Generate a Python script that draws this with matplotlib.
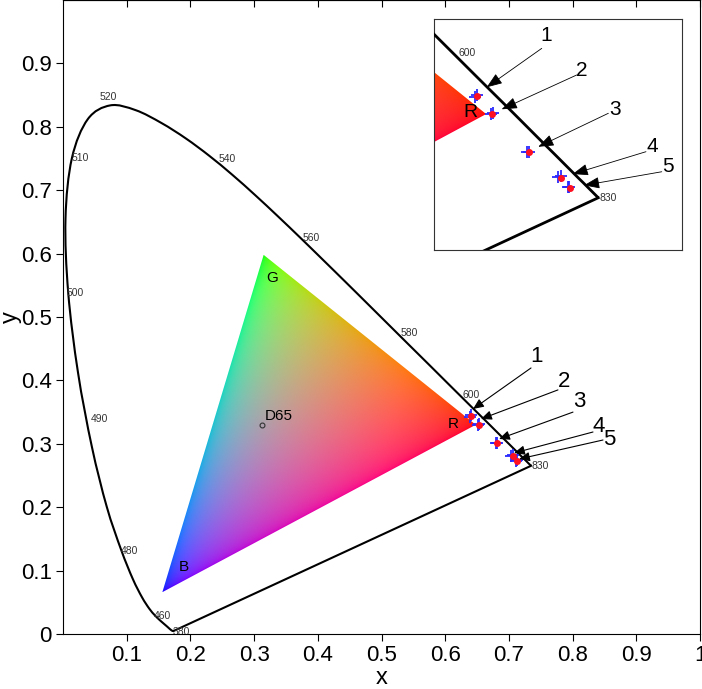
import numpy as np
import matplotlib
matplotlib.use("Agg")
import matplotlib.pyplot as plt
from matplotlib.patches import Polygon, PathPatch
from matplotlib.path import Path

plt.rcParams["font.family"] = ["Liberation Sans", "DejaVu Sans"]

# CIE 1931 spectral locus (5 nm steps, 380..700, then 830)
wavelengths = list(range(380, 705, 5)) + [830]
locus_x = [0.1741, 0.1740, 0.1738, 0.1736, 0.1733, 0.1730, 0.1726, 0.1721, 0.1714, 0.1703,
           0.1689, 0.1669, 0.1644, 0.1611, 0.1566, 0.1510, 0.1440, 0.1355, 0.1241, 0.1096,
           0.0913, 0.0687, 0.0454, 0.0235, 0.0082, 0.0039, 0.0139, 0.0389, 0.0743, 0.1142,
           0.1547, 0.1929, 0.2296, 0.2658, 0.3016, 0.3373, 0.3731, 0.4087, 0.4441, 0.4788,
           0.5125, 0.5448, 0.5752, 0.6029, 0.6270, 0.6482, 0.6658, 0.6801, 0.6915, 0.7006,
           0.7079, 0.7140, 0.7190, 0.7230, 0.7260, 0.7283, 0.7300, 0.7311, 0.7320, 0.7327,
           0.7334, 0.7340, 0.7344, 0.7346, 0.7347, 0.7347]
locus_y = [0.0050, 0.0050, 0.0049, 0.0049, 0.0048, 0.0048, 0.0048, 0.0048, 0.0051, 0.0058,
           0.0069, 0.0086, 0.0109, 0.0138, 0.0177, 0.0227, 0.0297, 0.0399, 0.0578, 0.0868,
           0.1327, 0.2007, 0.2950, 0.4127, 0.5384, 0.6548, 0.7502, 0.8120, 0.8338, 0.8262,
           0.8059, 0.7816, 0.7543, 0.7243, 0.6923, 0.6589, 0.6245, 0.5896, 0.5547, 0.5202,
           0.4866, 0.4544, 0.4242, 0.3965, 0.3725, 0.3514, 0.3340, 0.3197, 0.3083, 0.2993,
           0.2920, 0.2859, 0.2809, 0.2770, 0.2740, 0.2717, 0.2700, 0.2689, 0.2680, 0.2673,
           0.2666, 0.2660, 0.2656, 0.2654, 0.2653, 0.2653]

# wavelength labels and where they sit
wl_labels = ["520", "510", "500", "490", "480", "460", "380", "540", "560", "580", "600", "830"]
wl_label_x = [0.058, 0.013, 0.006, 0.044, 0.090, 0.143, 0.172, 0.245, 0.376, 0.530, 0.627, 0.736]
wl_label_y = [0.847, 0.751, 0.538, 0.339, 0.131, 0.028, 0.003, 0.749, 0.625, 0.475, 0.377, 0.265]

# gamut triangle primaries
prim_names = ["R", "G", "B"]
prim_x = [0.648, 0.315, 0.156]
prim_y = [0.330, 0.598, 0.066]
prim_label_x = [0.612, 0.3276, 0.189]
prim_label_y = [0.331, 0.561, 0.106]
white_x, white_y = 0.3127, 0.329

# measured points: two blue repeats and the red mean
meas_a_x = [0.6394, 0.6518, 0.6794, 0.7038, 0.7111]
meas_a_y = [0.3429, 0.3300, 0.3006, 0.2811, 0.2733]
meas_b_x = [0.6412, 0.6535, 0.6814, 0.7057, 0.7123]
meas_b_y = [0.3450, 0.3310, 0.3009, 0.2823, 0.2738]
mean_x = [0.6407, 0.6523, 0.6814, 0.7057, 0.7129]
mean_y = [0.3442, 0.3300, 0.3006, 0.2808, 0.2730]
point_ids = ["1", "2", "3", "4", "5"]

# arrows in main axes
main_tip_x = [0.6436, 0.6562, 0.6845, 0.7080, 0.7159]
main_tip_y = [0.3549, 0.3391, 0.3076, 0.2855, 0.2760]
main_tail_x = [0.7347, 0.7770, 0.8006, 0.8320, 0.8477]
main_tail_y = [0.4196, 0.3850, 0.3500, 0.3186, 0.3060]
main_num_x = [0.744, 0.7865, 0.810, 0.8414, 0.857]
main_num_y = [0.437, 0.399, 0.366, 0.328, 0.306]

# arrows in zoomed inset
ins_tip_x = [0.6484, 0.6600, 0.6883, 0.7149, 0.7237]
ins_tip_y = [0.3507, 0.3337, 0.3047, 0.2836, 0.2749]
ins_tail_x = [0.6910, 0.7180, 0.7425, 0.7716, 0.7838]
ins_tail_y = [0.3808, 0.3602, 0.3306, 0.3009, 0.2854]
ins_num_x = [0.6943, 0.7219, 0.7477, 0.7768, 0.7884]
ins_num_y = [0.3904, 0.3633, 0.3339, 0.3047, 0.2893]


def smooth_path(xs, ys):
    # Catmull-Rom through the points, drawn as cubic Bezier segments
    p = np.column_stack([xs, ys])
    verts = [p[0]]
    codes = [Path.MOVETO]
    for i in range(len(p) - 1):
        p0 = p[i - 1] if i > 0 else p[i]
        p3 = p[i + 2] if i + 2 < len(p) else p[i + 1]
        c1 = p[i] + (p[i + 1] - p0) / 6
        c2 = p[i + 1] - (p3 - p[i]) / 6
        verts += [c1, c2, p[i + 1]]
        codes += [Path.CURVE4] * 3
    return Path(verts, codes)


def gamut_image(n=700):
    px, py = np.array(prim_x), np.array(prim_y)
    x0, x1 = px.min(), px.max()
    y0, y1 = py.min(), py.max()
    gx, gy = np.meshgrid(np.linspace(x0, x1, n), np.linspace(y0, y1, n))
    # barycentric weights in the xy plane
    det = (py[1] - py[2]) * (px[0] - px[2]) + (px[2] - px[1]) * (py[0] - py[2])
    a = ((py[1] - py[2]) * (gx - px[2]) + (px[2] - px[1]) * (gy - py[2])) / det
    b = ((py[2] - py[0]) * (gx - px[2]) + (px[0] - px[2]) * (gy - py[2])) / det
    c = 1 - a - b
    w = np.stack([a, b, c], axis=-1).clip(0, None)
    lin = w * np.array([2.5, 1.0, 1.15])
    lin = lin / lin.sum(axis=-1, keepdims=True).clip(1e-9, None)
    rgb = np.clip(lin * 1.2, 0, 1) ** (1 / 2.2)
    img = np.dstack([rgb, np.ones(gx.shape)])
    return img, (x0, x1, y0, y1)


def draw_diagram(ax, lw):
    img, ext = gamut_image()
    im = ax.imshow(img, extent=ext, origin="lower", interpolation="bilinear",
                   aspect="auto", zorder=1)
    tri = Polygon(np.column_stack([prim_x, prim_y]), closed=True,
                  transform=ax.transData, facecolor="none", edgecolor="none")
    ax.add_patch(tri)
    im.set_clip_path(tri)

    ax.add_patch(PathPatch(smooth_path(locus_x, locus_y), facecolor="none",
                           edgecolor="k", lw=lw, zorder=3))
    ax.plot([locus_x[-1], locus_x[0]], [locus_y[-1], locus_y[0]], color="k", lw=lw, zorder=3)

    for lab, lx, ly in zip(wl_labels, wl_label_x, wl_label_y):
        ax.text(lx, ly, lab, fontsize=7.5, color="#333333", ha="left", va="center",
                zorder=4, clip_on=True)

    ax.plot(meas_a_x, meas_a_y, "+", color="#2a2aff", ms=9, mew=1.3, zorder=5)
    ax.plot(meas_b_x, meas_b_y, "+", color="#2a2aff", ms=9, mew=1.3, zorder=5)
    ax.plot(mean_x, mean_y, "o", color="#ff1020", ms=4, mec="#ff1020", zorder=6)


fig = plt.figure(figsize=(7.02, 6.89), dpi=100)
ax = fig.add_axes([63 / 702, 55 / 689, 637 / 702, 634 / 689])

draw_diagram(ax, lw=1.5)

for name, lx, ly in zip(prim_names, prim_label_x, prim_label_y):
    ax.text(lx, ly, name, fontsize=11, ha="center", va="center", zorder=6)
ax.plot(white_x, white_y, "o", ms=3.5, mfc="none", mec="#333333", mew=0.8, zorder=6)
ax.text(white_x + 0.004, white_y + 0.004, "D65", fontsize=11, ha="left", va="bottom", zorder=6)

for i in range(len(point_ids)):
    ax.annotate("", xy=(main_tip_x[i], main_tip_y[i]), xytext=(main_tail_x[i], main_tail_y[i]),
                arrowprops=dict(arrowstyle="-|>,head_length=0.8,head_width=0.35",
                                color="k", lw=0.8, mutation_scale=8, shrinkA=0, shrinkB=0),
                zorder=7)
    ax.text(main_num_x[i], main_num_y[i], point_ids[i], fontsize=16, ha="center", va="center")

ax.set_xlim(0, 1)
ax.set_ylim(0, 1)
xt = [0.1, 0.2, 0.3, 0.4, 0.5, 0.6, 0.7, 0.8, 0.9, 1.0]
yt = [0, 0.1, 0.2, 0.3, 0.4, 0.5, 0.6, 0.7, 0.8, 0.9]
ax.set_xticks(xt)
ax.set_xticklabels(["%g" % v for v in xt])
ax.set_yticks(yt)
ax.set_yticklabels(["%g" % v for v in yt])
ax.tick_params(direction="out", length=5, width=0.8, labelsize=16, pad=3)
sec = ax.secondary_xaxis("top")
sec.set_xticks(xt)
sec.tick_params(direction="in", length=5, width=0.8, labeltop=False)
ax.set_xlabel("x", fontsize=17)
ax.set_ylabel("y", fontsize=17)
ax.xaxis.set_label_coords(0.5, -0.052)
ax.yaxis.set_label_coords(-0.064, 0.5)
for s in ax.spines.values():
    s.set_linewidth(0.8)

# zoomed inset
ins = fig.add_axes([434.3 / 702, (689 - 250) / 689, 248 / 702, 231 / 689])
ins.set_facecolor("white")
draw_diagram(ins, lw=2.0)
ins.text(prim_label_x[0] + 0.024, prim_label_y[0], prim_names[0], fontsize=14,
         ha="center", va="center", zorder=6)
for i in range(len(point_ids)):
    ins.annotate("", xy=(ins_tip_x[i], ins_tip_y[i]), xytext=(ins_tail_x[i], ins_tail_y[i]),
                 arrowprops=dict(arrowstyle="-|>,head_length=0.8,head_width=0.3",
                                 color="k", lw=0.6, mutation_scale=12, shrinkA=0, shrinkB=0),
                 zorder=7)
    ins.text(ins_num_x[i], ins_num_y[i], point_ids[i], fontsize=15, ha="center", va="center")
ins.set_xlim(0.6079, 0.7997)
ins.set_ylim(0.2249, 0.4035)
ins.set_xticks([])
ins.set_yticks([])
for s in ins.spines.values():
    s.set_linewidth(0.8)
    s.set_color("#333333")

fig.savefig("out.png", dpi=100)
